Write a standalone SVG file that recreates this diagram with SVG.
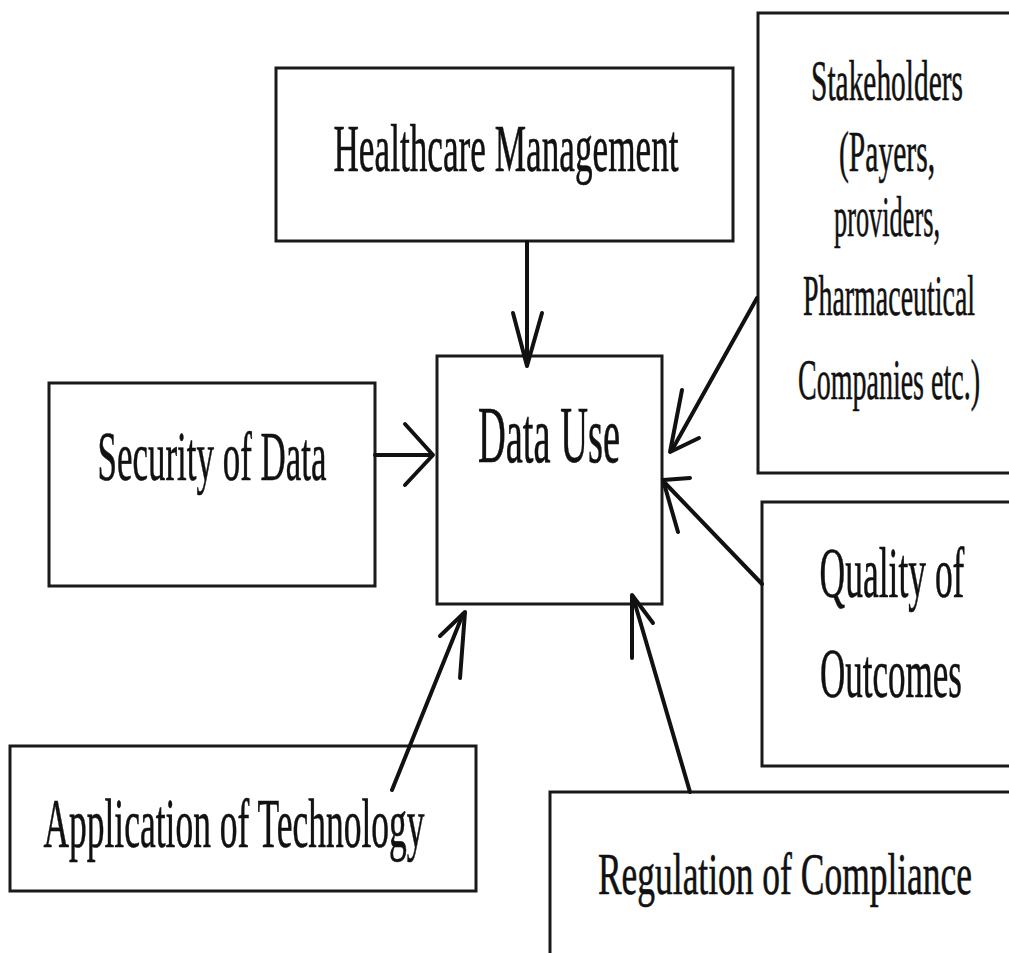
<svg xmlns="http://www.w3.org/2000/svg" width="1009" height="953" viewBox="0 0 1009 953">
  <style>
    .box { fill: #ffffff; stroke: #1a1a1a; stroke-width: 3; }
    .label { font-family: "Liberation Serif", "Times New Roman", serif; fill: #111111; stroke: #111111; stroke-width: 0.6; text-anchor: middle; }
    .conn { fill: none; stroke: #111111; stroke-width: 4; stroke-linecap: round; stroke-linejoin: round; }
  </style>
  <rect x="0" y="0" width="1009" height="953" fill="#ffffff"/>

  <!-- central node -->
  <g id="data-use">
    <rect class="box" x="437" y="356" width="225" height="248" stroke-width="2.5"/>
    <text class="label" transform="translate(549,462) scale(0.481,1)" font-size="80">Data Use</text>
  </g>

  <g id="healthcare-management">
    <rect class="box" x="276" y="68" width="457" height="173"/>
    <text class="label" transform="translate(506,171) scale(0.518,1)" font-size="68">Healthcare Management</text>
  </g>

  <g id="security-of-data">
    <rect class="box" x="49" y="383" width="326" height="203"/>
    <text class="label" transform="translate(212,480) scale(0.499,1)" font-size="70">Security of Data</text>
  </g>

  <g id="stakeholders">
    <rect class="box" x="758" y="13" width="260" height="460"/>
    <text class="label" transform="translate(887,100) scale(0.525,1)" font-size="56">Stakeholders</text>
    <text class="label" transform="translate(887,171) scale(0.528,1)" font-size="56">(Payers,</text>
    <text class="label" transform="translate(887,236) scale(0.47,1)" font-size="56">providers,</text>
    <text class="label" transform="translate(889,315) scale(0.499,1)" font-size="56">Pharmaceutical</text>
    <text class="label" transform="translate(889,399) scale(0.5,1)" font-size="56">Companies etc.)</text>
  </g>

  <g id="quality-of-outcomes">
    <rect class="box" x="762" y="502" width="260" height="264"/>
    <text class="label" transform="translate(892,597) scale(0.493,1)" font-size="72">Quality of</text>
    <text class="label" transform="translate(891,697) scale(0.5,1)" font-size="70">Outcomes</text>
  </g>

  <g id="application-of-technology">
    <rect class="box" x="10" y="746" width="466" height="145"/>
    <text class="label" transform="translate(234,847) scale(0.507,1)" font-size="70">Application of Technology</text>
  </g>

  <g id="regulation-of-compliance">
    <rect class="box" x="550" y="792" width="470" height="170"/>
    <text class="label" transform="translate(785,894) scale(0.591,1)" font-size="60">Regulation of Compliance</text>
  </g>

  <!-- connectors: open chevron heads pointing into Data Use -->
  <g id="connectors">
    <line class="conn" x1="527" y1="242" x2="527" y2="364"/>
    <polyline class="conn" points="513,313 527,366 542,313"/>

    <line class="conn" x1="375" y1="455" x2="431" y2="455" stroke-width="6"/>
    <polyline class="conn" points="405,424 433,455 405,485" stroke-width="5"/>

    <line class="conn" x1="757" y1="298" x2="672" y2="450"/>
    <polyline class="conn" points="682,390 670,452 699,438" stroke-width="5"/>

    <line class="conn" x1="762" y1="584" x2="665" y2="483"/>
    <polyline class="conn" points="678,532 663,480 690,478" stroke-width="5"/>

    <line class="conn" x1="392" y1="790" x2="463" y2="614"/>
    <polyline class="conn" points="440,636 465,612 460,678"/>

    <line class="conn" x1="690" y1="792" x2="633" y2="597"/>
    <polyline class="conn" points="632,658 632,595 653,623"/>
  </g>
</svg>
